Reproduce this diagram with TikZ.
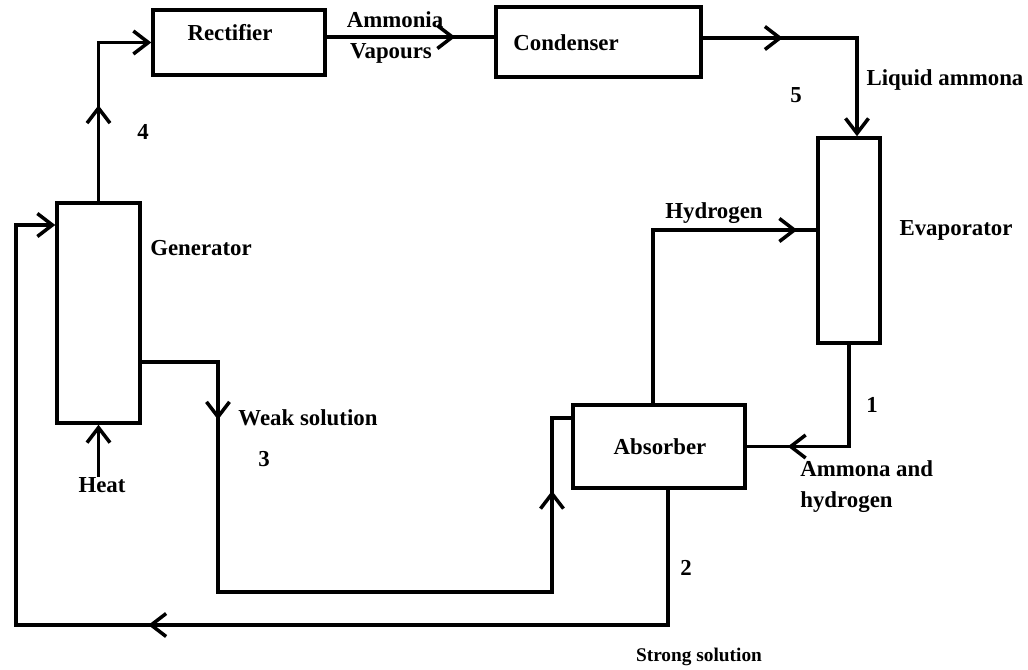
\documentclass[tikz,border=0pt]{standalone}
\usepackage{fontspec}
\setmainfont{Liberation Serif}
\usetikzlibrary{arrows.meta, decorations.markings}

\begin{document}
\begin{tikzpicture}[
    x=0.2mm, y=-0.2mm,
    box/.style={draw, line width=2pt},
    pipe/.style={line width=2pt},
    lbl/.style={font=\fontsize{13}{17.6}\selectfont\bfseries, inner sep=0pt},
    flowend/.style={-{Straight Barb[length=3mm, width=4.6mm]}},
    midarrow/.style={postaction={decorate, decoration={markings,
        mark=at position #1 with {\arrow{Straight Barb[length=3mm, width=4.6mm]}}}}}
]
    \useasboundingbox (0,0) rectangle (1028,669);

    % Bauteile
    \node[box, minimum width=34.4mm, minimum height=13mm] (rect) at (239,42.5) {};
    \node[box, minimum width=41mm, minimum height=14mm] (cond) at (598.5,42) {};
    \node[box, minimum width=16.6mm, minimum height=44mm] (gen) at (98.5,313) {};
    \node[box, minimum width=12.4mm, minimum height=41mm] (evap) at (849,240.5) {};
    \node[box, minimum width=34.4mm, minimum height=16.6mm] (abs) at (659,446.5) {};

    \node[lbl] (rectlbl) at (230,33) {Rectifier};
    \node[lbl] (condlbl) at (566,43) {Condenser};
    \node[lbl] (genlbl) at (201,248) {Generator};
    \node[lbl] (evaplbl) at (956,230) {Evaporator};
    \node[lbl] (abslbl) at (660,447) {Absorber};

    % Stroemungen
    \draw[pipe, flowend, midarrow=19.2mm] (gen.north) -- (gen.north |- rect.west) -- (rect.west);
    \node[lbl] (p4) at (143,132) {4};

    \coordinate (v1) at (400,37);
    \draw[pipe, midarrow=-7.8mm] (v1 -| rect.east) -- (v1 -| cond.west);
    \node[lbl] (vap1) at (395,20) {Ammonia};
    \node[lbl] (vap2) at (391,53) {Vapours};

    \coordinate (c2) at (857,38);
    \draw[pipe, flowend, midarrow=16mm] (c2 -| cond.east) -- (c2) -- (c2 |- evap.north);
    \node[lbl] (p5) at (796,95) {5};
    \node[lbl] (liq) at (945,80) {Liquid ammona};

    \draw[pipe, midarrow=-8.2mm] (evap.south) -- (evap.south |- abs.east) -- (abs.east);
    \node[lbl] (p1) at (872,405) {1};
    \node[lbl, align=left, anchor=west] (mix) at (800,487) {Ammona and\\hydrogen};

    \coordinate (h1) at (653,230);
    \draw[pipe, midarrow=-3.8mm] (h1 |- abs.north) -- (h1) -- (h1 -| evap.west);
    \node[lbl] (hyd) at (714,213) {Hydrogen};

    % schwache Loesung
    \coordinate (w1) at (218,362);
    \coordinate (w2) at (218,592);
    \coordinate (w3) at (552,592);
    \coordinate (w4) at (552,418);
    \draw[pipe, midarrow=26.8mm, midarrow=-18.4mm]
        (w1 -| gen.east) -- (w1) -- (w2) -- (w3) -- (w4) -- (w4 -| abs.west);
    \node[lbl] (weak) at (308,418) {Weak solution};
    \node[lbl] (p3) at (264,459) {3};

    % starke Loesung
    \coordinate (s1) at (668,625);
    \coordinate (s2) at (16,625);
    \coordinate (s3) at (16,225);
    \draw[pipe, flowend, midarrow=131mm]
        (s1 |- abs.south) -- (s1) -- (s2) -- (s3) -- (s3 -| gen.west);
    \node[lbl] (p2) at (686,568) {2};
    \node[lbl, font=\fontsize{11}{13}\selectfont\bfseries] (strong) at (699,657) {Strong solution};

    % Waerme
    \node[lbl] (heat) at (102,485) {Heat};
    \draw[pipe, flowend] (heat.north -| gen.south) -- (gen.south);
\end{tikzpicture}
\end{document}
